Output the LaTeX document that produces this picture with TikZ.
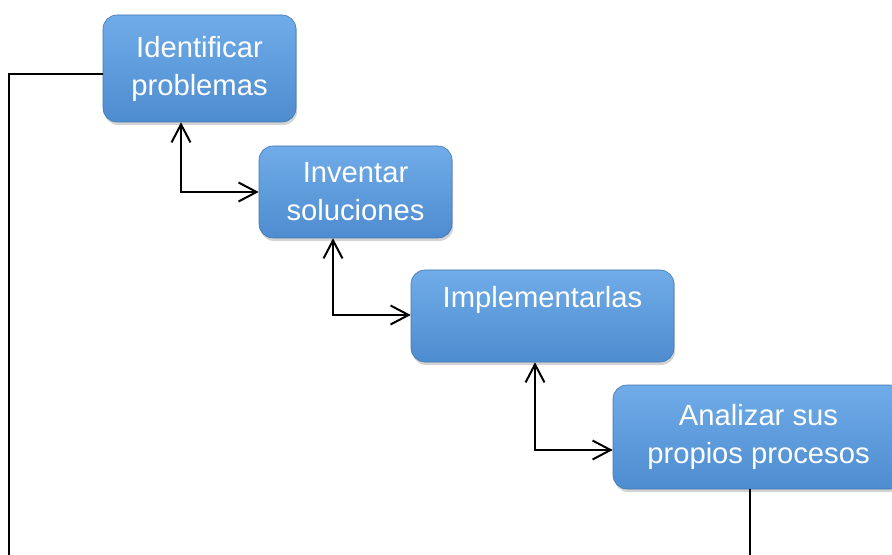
\documentclass[tikz,border=0pt]{standalone}
\usepackage{fontspec}
\setmainfont{Liberation Sans}
\usetikzlibrary{arrows.meta,shadows}
\definecolor{boxtop}{RGB}{112,172,232}
\definecolor{boxbot}{RGB}{78,140,208}
\begin{document}
\begin{tikzpicture}[x=0.5pt,y=-0.5pt,
  box/.style={rectangle,rounded corners=7pt,top color=boxtop,bottom color=boxbot,
    draw=boxbot!85!black,line width=0.3pt,text=white,align=center,inner sep=0pt,
    font=\fontsize{14.6}{19}\selectfont,
    drop shadow={shadow xshift=0.6pt,shadow yshift=-1.5pt,opacity=0.35}},
  link/.style={line width=1pt,{Straight Barb[length=9pt,width=9.5pt]}-{Straight Barb[length=9pt,width=9.5pt]}}]
  \useasboundingbox (0,0) rectangle (892,555);
  \node[box,minimum width=96.5pt,minimum height=53.5pt] (ident) at (199.5,68.5) {Identificar\\problemas};
  \node[box,minimum width=96.5pt,minimum height=46pt] (invent) at (355.5,192) {Inventar\\soluciones};
  \node[box,minimum width=131.5pt,minimum height=46pt] (implem) at (542.5,316) {Implementarlas\\\mbox{}};
  \node[box,minimum width=145.5pt,minimum height=52pt] (analiz) at (758.5,437) {Analizar sus\\propios procesos};
  \coordinate (lefttop) at (9,74);
  \coordinate (leftbot) at (9,557);
  \coordinate (elbowA) at (181,192);
  \coordinate (elbowB) at (333,315);
  \coordinate (elbowC) at (535,450);
  \coordinate (downend) at (750,557);
  \draw[line width=1pt] (ident.west |- lefttop) -- (lefttop) -- (leftbot);
  \draw[link] (ident.south -| elbowA) -- (elbowA) -- (invent.west |- elbowA);
  \draw[link] (invent.south -| elbowB) -- (elbowB) -- (implem.west |- elbowB);
  \draw[link] (implem.south -| elbowC) -- (elbowC) -- (analiz.west |- elbowC);
  \draw[line width=1pt] (analiz.south -| downend) -- (downend);
\end{tikzpicture}
\end{document}
